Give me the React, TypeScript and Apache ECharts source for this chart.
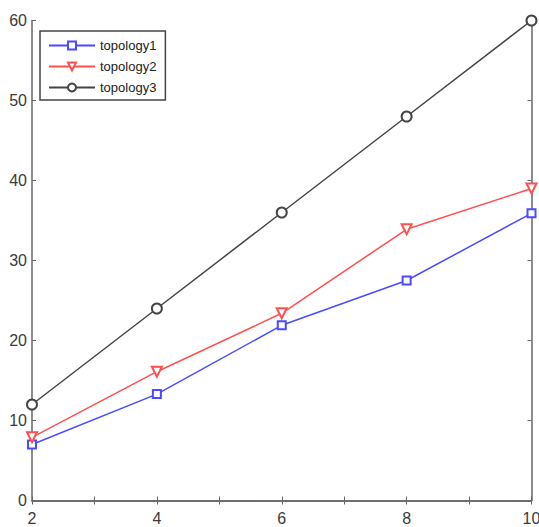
import React, { useEffect, useRef } from "react";
import * as echarts from "echarts";

const xValues = [2, 4, 6, 8, 10];
const topology1 = [7.0, 13.3, 21.9, 27.5, 35.9];
const topology2 = [7.9, 16.1, 23.4, 33.9, 39.0];
const topology3 = [12, 24, 36, 48, 60];
const seriesNames = ["topology1", "topology2", "topology3"];

export default function App() {
  const ref = useRef<HTMLDivElement>(null);
  useEffect(() => {
    const chart = echarts.init(ref.current!, null, { renderer: "svg" });
    const axisColor = "#666";
    const labelStyle = { color: "#3a3a3a", fontSize: 16, fontFamily: "Liberation Sans, Arial, sans-serif" };
    const mk = (name: string, data: number[], color: string, symbol: string, size: number, rotate = 0) => ({
      name,
      type: "line",
      data: xValues.map((x, i) => [x, data[i]]),
      symbol,
      symbolSize: size,
      symbolRotate: rotate,
      showAllSymbol: true,
      lineStyle: { color, width: 1.5 },
      itemStyle: { color, borderColor: color, borderWidth: 1.2 },
      emphasis: { disabled: true },
    });
    const tick = { show: true, inside: true, length: 4, lineStyle: { color: axisColor } };
    const line = { show: true, lineStyle: { color: axisColor, width: 1.5 } };
    chart.setOption({
      animation: false,
      backgroundColor: "#fff",
      grid: { left: 32, right: 7.5, top: 20.5, bottom: 26.5, containLabel: false, outerBoundsMode: "none" },
      legend: {
        orient: "vertical",
        left: 40,
        top: 31,
        data: seriesNames,
        backgroundColor: "#fff",
        borderColor: "#444",
        borderWidth: 1.5,
        borderRadius: 0,
        padding: [8, 9, 6, 8],
        itemGap: 8,
        itemWidth: 46,
        itemHeight: 10,
        textStyle: { color: "#222", fontSize: 13, fontFamily: "Liberation Sans, Arial, sans-serif" },
      },
      xAxis: [
        {
          type: "value",
          min: 2,
          max: 10,
          interval: 1,
          position: "bottom",
          splitLine: { show: false },
          axisLine: line,
          axisTick: tick,
          axisLabel: {
            ...labelStyle,
            margin: 10,
            formatter: (v: number) => (v % 2 === 0 ? String(v) : ""),
          },
        },
        {
          type: "value",
          min: 2,
          max: 10,
          interval: 1,
          position: "top",
          splitLine: { show: false },
          axisLine: line,
          axisTick: tick,
          axisLabel: { show: false },
        },
      ],
      yAxis: [
        {
          type: "value",
          min: 0,
          max: 60,
          interval: 10,
          position: "left",
          splitLine: { show: false },
          axisLine: line,
          axisTick: tick,
          axisLabel: { ...labelStyle, margin: 5 },
        },
        {
          type: "value",
          min: 0,
          max: 60,
          interval: 10,
          position: "right",
          splitLine: { show: false },
          axisLine: line,
          axisTick: tick,
          axisLabel: { show: false },
        },
      ],
      series: [
        mk("topology1", topology1, "#4a4aff", "emptyRect", 8),
        mk("topology2", topology2, "#ff5050", "emptyTriangle", 10, 180),
        mk("topology3", topology3, "#454545", "emptyCircle", 10),
      ],
    });
    return () => chart.dispose();
  }, []);
  return <div ref={ref} style={{ width: 539, height: 527, position: "absolute", left: 0, top: 0 }} />;
}
